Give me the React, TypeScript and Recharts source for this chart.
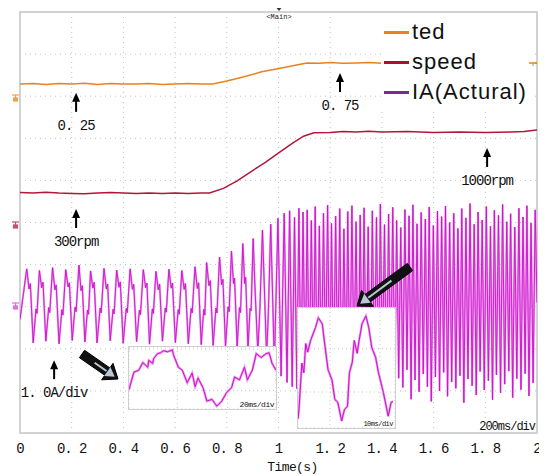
import React from "react";
import {
  LineChart,
  Line,
  XAxis,
  YAxis,
  CartesianGrid,
  ReferenceArea,
  ReferenceDot,
} from "recharts";

// time axis (s) and vertical divisions of the scope screen
const timeTicks = [0, 0.2, 0.4, 0.6, 0.8, 1, 1.2, 1.4, 1.6, 1.8, 2];
const divTicks = [0, 1, 2, 3, 4, 5, 6, 7, 8, 9, 10];

const seriesNames = ["ted", "speed", "IA(Actural)"];
const legendColors = ["#E8831C", "#A8102E", "#7E2A92"];

// ted trace (divisions)
const tedT = [0, 0.05, 0.1, 0.15, 0.2, 0.25, 0.3, 0.35, 0.4, 0.45, 0.5, 0.55, 0.6, 0.65, 0.7, 0.746, 0.8, 0.867, 0.935, 1.002, 1.07, 1.11, 1.16, 1.2, 1.25, 1.3, 1.35, 1.4, 1.5, 1.6, 1.7, 1.8, 1.9, 2.0];
const tedV = [8.29, 8.3, 8.28, 8.3, 8.29, 8.31, 8.28, 8.3, 8.29, 8.29, 8.3, 8.28, 8.29, 8.3, 8.29, 8.29, 8.36, 8.46, 8.58, 8.66, 8.74, 8.79, 8.78, 8.8, 8.78, 8.79, 8.8, 8.78, 8.79, 8.78, 8.79, 8.79, 8.78, 8.79];

// speed trace (divisions)
const speedT = [0, 0.05, 0.1, 0.15, 0.2, 0.25, 0.3, 0.35, 0.4, 0.45, 0.5, 0.55, 0.6, 0.65, 0.7, 0.733, 0.787, 0.84, 0.894, 0.949, 1.002, 1.056, 1.097, 1.137, 1.2, 1.25, 1.3, 1.35, 1.4, 1.5, 1.6, 1.7, 1.8, 1.9, 1.95, 2.0];
const speedV = [5.71, 5.7, 5.72, 5.7, 5.69, 5.68, 5.7, 5.71, 5.7, 5.69, 5.7, 5.69, 5.7, 5.69, 5.7, 5.7, 5.81, 5.99, 6.21, 6.43, 6.66, 6.89, 7.05, 7.13, 7.14, 7.16, 7.15, 7.17, 7.15, 7.16, 7.14, 7.15, 7.14, 7.15, 7.16, 7.2];

// phase current, low speed part and acceleration (divisions)
const iaSlowT = [
  0,
  0.026, 0.035, 0.04, 0.051, 0.062, 0.066,
  0.075, 0.084, 0.089, 0.1, 0.111, 0.115,
  0.126, 0.135, 0.14, 0.151, 0.162, 0.166,
  0.177, 0.186, 0.191, 0.202, 0.213, 0.217,
  0.228, 0.236, 0.241, 0.251, 0.261, 0.265,
  0.273, 0.282, 0.287, 0.298, 0.31, 0.314,
  0.325, 0.334, 0.339, 0.349, 0.36, 0.364,
  0.374, 0.383, 0.388, 0.399, 0.411, 0.415,
  0.426, 0.435, 0.44, 0.451, 0.462, 0.466,
  0.477, 0.486, 0.491, 0.501, 0.512, 0.516,
  0.526, 0.535, 0.54, 0.551, 0.562, 0.566,
  0.576, 0.585, 0.59, 0.601, 0.612, 0.616,
  0.626, 0.635, 0.64, 0.651, 0.662, 0.666,
  0.677, 0.686, 0.691, 0.701, 0.711, 0.715,
  0.722, 0.731, 0.736, 0.747, 0.758, 0.762,
  0.772, 0.78, 0.785, 0.795, 0.805, 0.809,
  0.818, 0.826, 0.83, 0.84, 0.849, 0.853,
  0.862, 0.869, 0.873, 0.882, 0.89, 0.894,
  0.902, 0.909, 0.92, 0.928,
  0.938, 0.945, 0.954, 0.961,
  0.97, 0.984,
  0.998, 1.01,
  1.022, 1.033,
  1.043, 1.053,
  1.062, 1.071,
  1.079, 1.087,
  1.095, 1.103,
];
const iaSlowV = [
  2.7,
  3.9, 3.42, 3.55, 2.14, 2.95, 2.84,
  3.86, 3.45, 3.58, 2.18, 2.98, 2.86,
  3.93, 3.4, 3.52, 2.12, 2.93, 2.8,
  3.88, 3.47, 3.57, 2.2, 2.99, 2.88,
  3.99, 3.38, 3.5, 2.16, 2.92, 2.82,
  3.85, 3.44, 3.58, 2.14, 2.97, 2.85,
  3.91, 3.42, 3.54, 2.19, 2.94, 2.83,
  3.87, 3.46, 3.59, 2.13, 2.96, 2.86,
  3.9, 3.41, 3.53, 2.17, 2.92, 2.81,
  3.88, 3.45, 3.56, 2.11, 2.95, 2.84,
  3.84, 3.4, 3.54, 2.18, 2.97, 2.87,
  3.89, 3.44, 3.56, 2.15, 2.93, 2.82,
  3.86, 3.41, 3.55, 2.12, 2.96, 2.85,
  3.95, 3.43, 3.57, 2.1, 2.94, 2.8,
  4.05, 3.5, 3.62, 2.08, 2.97, 2.85,
  4.18, 3.52, 3.65, 2.06, 3.0, 2.88,
  4.32, 3.55, 3.68, 2.04, 2.98, 2.86,
  4.5, 3.55, 3.7, 2.0, 2.96, 2.9,
  4.62, 3.45, 1.92, 2.95,
  4.82, 3.5, 1.8, 2.9,
  4.96, 1.62,
  5.1, 1.35,
  5.22, 1.2,
  5.28, 1.1,
  5.12, 1.05,
  5.34, 0.98,
  5.25, 1.15,
];

// phase current at 1000 rpm: peaks and troughs (divisions)
const iaPeakT = [1.111, 1.127, 1.142, 1.158, 1.174, 1.19, 1.205, 1.221, 1.237, 1.253, 1.268, 1.284, 1.3, 1.316, 1.331, 1.347, 1.363, 1.379, 1.394, 1.41, 1.426, 1.442, 1.457, 1.473, 1.489, 1.505, 1.52, 1.536, 1.552, 1.568, 1.583, 1.599, 1.615, 1.631, 1.646, 1.662, 1.678, 1.694, 1.709, 1.725, 1.741, 1.757, 1.772, 1.788, 1.804, 1.82, 1.835, 1.851, 1.867, 1.883, 1.898, 1.914, 1.93, 1.946, 1.961, 1.977, 1.993];
const iaPeakV = [5.3, 5.05, 5.38, 4.92, 5.22, 5.41, 4.98, 5.15, 5.33, 4.85, 5.26, 5.4, 5.02, 5.18, 5.35, 4.9, 5.28, 5.12, 5.44, 4.95, 5.2, 5.36, 5.05, 4.88, 5.31, 5.16, 5.42, 4.97, 5.24, 5.08, 5.37, 4.93, 5.27, 5.14, 5.39, 5.0, 5.22, 4.86, 5.33, 5.11, 5.45, 4.96, 5.25, 5.06, 5.38, 4.91, 5.29, 5.17, 5.43, 5.02, 5.21, 4.89, 5.34, 5.13, 5.4, 4.99, 5.3];
const iaTroughT = [1.119, 1.135, 1.15, 1.166, 1.182, 1.198, 1.213, 1.229, 1.245, 1.261, 1.276, 1.292, 1.308, 1.324, 1.339, 1.355, 1.371, 1.387, 1.402, 1.418, 1.434, 1.45, 1.465, 1.481, 1.497, 1.513, 1.528, 1.544, 1.56, 1.576, 1.591, 1.607, 1.623, 1.639, 1.654, 1.67, 1.686, 1.702, 1.717, 1.733, 1.749, 1.765, 1.78, 1.796, 1.812, 1.828, 1.843, 1.859, 1.875, 1.891, 1.906, 1.922, 1.938, 1.954, 1.969, 1.985, 2.0];
const iaTroughV = [1.05, 1.32, 0.88, 1.2, 1.45, 0.95, 1.12, 1.38, 0.82, 1.25, 1.02, 1.48, 0.9, 1.15, 1.35, 0.78, 1.22, 1.05, 1.42, 0.92, 1.18, 0.85, 1.3, 1.08, 1.5, 0.8, 1.26, 0.98, 1.4, 1.1, 0.75, 1.33, 1.0, 1.44, 0.87, 1.21, 1.06, 1.36, 0.72, 1.28, 1.12, 0.9, 1.46, 1.02, 1.24, 0.79, 1.38, 0.95, 1.16, 1.47, 0.84, 1.29, 1.03, 1.41, 0.88, 1.19, 3.1];

// zoomed captures (20ms/div and 10ms/div)
const zoom1X = [0, 5, 10, 14, 19, 20, 24, 25, 29, 32, 35, 39, 44, 45, 50, 54, 59, 64, 67, 70, 75, 79, 84, 89, 94, 99, 104, 107, 112, 117, 120, 125, 129, 134, 139, 142, 145, 149];
const zoom1V = [0.94, 1.78, 1.88, 2.25, 2.02, 2.35, 2.21, 2.44, 2.68, 2.72, 2.82, 2.77, 2.86, 2.63, 2.02, 1.88, 1.27, 1.74, 1.08, 1.5, 1.03, 0.38, 0.47, 0.14, 0.38, 0.8, 1.03, 1.55, 1.41, 2.02, 1.41, 1.88, 2.68, 2.49, 2.68, 2.72, 2.21, 1.88];
const zoom2X = [0, 0.5, 2, 3, 4, 5, 6.5, 9, 10.5, 12.5, 14, 15.5, 17.5, 19, 20.5, 22.5, 24, 25.5, 26.5, 28, 29, 30.5, 31.5, 33, 35, 36.5, 38, 40, 41.5, 44, 46.5, 48, 49];
const zoom2V = [0.37, 0.78, 2.7, 2.3, 3.52, 3.16, 3.65, 4.18, 4.59, 4.34, 3.36, 2.42, 2.01, 1.19, 1.07, 0.29, 0.78, 0.9, 2.3, 2.75, 3.65, 3.11, 3.65, 4.34, 4.67, 4.18, 3.36, 2.95, 2.3, 1.48, 0.49, 1.07, 1.11];

const notes = [
  { t: 0.217, v: 8.08, text: "0. 25" },
  { t: 1.238, v: 8.55, text: "0. 75" },
  { t: 1.807, v: 6.77, text: "1000rpm" },
  { t: 0.217, v: 5.32, text: "300rpm" },
  { t: 0.132, v: 1.73, text: "1. 0A/div" },
];

const pairs = (xs, ys) => xs.map((t, i) => ({ t, v: ys[i] }));
const tedData = pairs(tedT, tedV);
const speedData = pairs(speedT, speedV);
const iaData = [
  ...pairs(iaSlowT, iaSlowV),
  ...[...pairs(iaPeakT, iaPeakV), ...pairs(iaTroughT, iaTroughV)].sort((a, b) => a.t - b.t),
];
const zoom1Data = pairs(zoom1X, zoom1V);
const zoom2Data = pairs(zoom2X, zoom2V);

const MONO = "'Liberation Mono', 'DejaVu Sans Mono', monospace";
const PINK = "#EE96EE";
const MAGENTA = "#CC10CC";

const fmtTick = (v) => (Number.isInteger(v) ? String(v) : v.toFixed(1).replace(".", ". "));

const UpArrow = ({ cx, cy, text }) => (
  <g>
    <polygon points={`${cx},${cy} ${cx - 4},${cy + 9} ${cx + 4},${cy + 9}`} fill="#000" />
    <line x1={cx} y1={cy + 8} x2={cx} y2={cy + 19} stroke="#000" strokeWidth={2} />
    <text x={cx} y={cy + 33} textAnchor="middle" dominantBaseline="central" fontFamily={MONO} fontSize={14} letterSpacing={-1} fill="#111">
      {text}
    </text>
  </g>
);

// thick black pointer with a light streak, tail -> tip
const BigArrow = ({ x1, y1, x2, y2 }) => {
  const dx = x2 - x1, dy = y2 - y1;
  const len = Math.hypot(dx, dy);
  const ux = dx / len, uy = dy / len, nx = -uy, ny = ux;
  const hl = 13, sw = 4.5, hw = 10;
  const bx = x2 - ux * hl, by = y2 - uy * hl;
  const p = [
    [x1 + nx * sw, y1 + ny * sw],
    [bx + nx * sw, by + ny * sw],
    [bx + nx * hw, by + ny * hw],
    [x2, y2],
    [bx - nx * hw, by - ny * hw],
    [bx - nx * sw, by - ny * sw],
    [x1 - nx * sw, y1 - ny * sw],
  ];
  return (
    <g>
      <polygon points={p.map((q) => q.join(",")).join(" ")} fill="#111" stroke="#000" strokeWidth={1} />
      <line x1={x1 + dx * 0.35} y1={y1 + dy * 0.35} x2={bx - ux * 1} y2={by - uy * 1} stroke="#B8C6D8" strokeWidth={2} />
      <polygon points={`${bx + nx * 5.5},${by + ny * 5.5} ${x2 - ux * 4},${y2 - uy * 4} ${bx - nx * 5.5},${by - ny * 5.5}`} fill="#B8C6D8" />
    </g>
  );
};

const ChannelMark = ({ x, y, color }) => (
  <g stroke={color} fill="none" strokeWidth={1.2}>
    <line x1={x - 3.5} y1={y} x2={x + 3.5} y2={y} />
    <line x1={x} y1={y} x2={x} y2={y + 6} />
    <rect x={x - 2} y={y + 3} width={4} height={3} fill={color} />
  </g>
);

const Inset = ({ left, top, width, height, data, xMax, yMax, xGrid, yGrid, label, labelSize }) => (
  <div style={{ position: "absolute", left, top, width, height, background: "#fff", border: "1px solid #cfcfcf", boxSizing: "border-box" }}>
    <LineChart width={width - 2} height={height - 2} margin={{ top: 0, right: 0, bottom: 0, left: 0 }}>
      <CartesianGrid stroke="#c8c8c8" strokeDasharray="1 3" horizontal vertical />
      <XAxis type="number" dataKey="t" domain={[0, xMax]} ticks={xGrid} hide />
      <YAxis type="number" domain={[0, yMax]} ticks={yGrid} hide />
      <Line data={data} dataKey="v" stroke={PINK} strokeWidth={2.4} dot={false} isAnimationActive={false} />
      <Line data={data} dataKey="v" stroke={MAGENTA} strokeWidth={1} dot={false} isAnimationActive={false} />
    </LineChart>
    <span style={{ position: "absolute", right: 2, bottom: 0, fontFamily: MONO, fontSize: labelSize, letterSpacing: -0.5, color: "#111" }}>{label}</span>
  </div>
);

export default function App() {
  return (
    <div style={{ position: "relative", width: 547, height: 475, margin: "-8px 0 0 -8px", background: "#fff", overflow: "hidden" }}>
      <LineChart width={547} height={475} margin={{ top: 12, right: 10, bottom: 0, left: 20 }}>
        <CartesianGrid stroke="#c2c2c2" strokeDasharray="1 4" />
        <XAxis
          type="number"
          dataKey="t"
          domain={[0, 2]}
          ticks={timeTicks}
          interval={0}
          allowDataOverflow
          height={42}
          tickLine={false}
          axisLine={false}
          tickMargin={4}
          tickFormatter={fmtTick}
          tick={{ fill: "#111", fontFamily: MONO, fontSize: 14, letterSpacing: -1 }}
          label={{ value: "Time(s)", position: "insideBottom", offset: 4, dx: 14, style: { fill: "#111", fontFamily: MONO, fontSize: 13, letterSpacing: -0.6 } }}
        />
        <YAxis type="number" domain={[0, 10]} ticks={divTicks} hide allowDataOverflow />
        <ReferenceArea x1={0} x2={2} y1={0} y2={10} fill="none" stroke="#d2d2d2" strokeWidth={2} />
        <Line data={iaData} dataKey="v" stroke={PINK} strokeWidth={2} dot={false} isAnimationActive={false} />
        <Line data={iaData} dataKey="v" stroke={MAGENTA} strokeWidth={0.9} dot={false} isAnimationActive={false} />
        <Line data={speedData} dataKey="v" stroke="#B0183A" strokeWidth={1.5} dot={false} isAnimationActive={false} />
        <Line data={tedData} dataKey="v" stroke="#E8831C" strokeWidth={1.5} dot={false} isAnimationActive={false} />
        {notes.map((n) => (
          <ReferenceDot key={n.text} x={n.t} y={n.v} r={0} shape={(p) => <UpArrow cx={p.cx} cy={p.cy} text={n.text} />} />
        ))}
      </LineChart>

      <Inset left={128} top={346} width={149} height={64} data={zoom1Data} xMax={149} yMax={3} xGrid={[49, 100]} yGrid={[0.9, 2.9]} label="20ms/div" labelSize={8} />
      <Inset left={297} top={307} width={99} height={122} data={zoom2Data} xMax={50} yMax={5} xGrid={[16.5, 42.3]} yGrid={[1.5, 3.3]} label="10ms/div" labelSize={7} />

      <div style={{ position: "absolute", left: 381, top: 13, width: 154, height: 96, background: "#fff" }}>
        {seriesNames.map((name, i) => (
          <div key={name} style={{ position: "absolute", left: 3, top: 4 + i * 30, height: 30, display: "flex", alignItems: "center" }}>
            <div style={{ width: 25, height: 3, background: legendColors[i], marginRight: 3 }} />
            <span style={{ fontFamily: "'Liberation Sans', Arial, sans-serif", fontSize: 22, letterSpacing: 1, color: "#111" }}>{name}</span>
          </div>
        ))}
      </div>

      <svg width={547} height={475} style={{ position: "absolute", left: 0, top: 0, pointerEvents: "none" }}>
        <line x1={12} y1={7} x2={545} y2={7} stroke="#555" strokeWidth={1.6} />
        <polygon points="275,6 283,6 279,11" fill="#333" />
        <text x={279} y={19} textAnchor="middle" fontFamily={MONO} fontSize={7} fill="#222">{"<Main>"}</text>
        <ChannelMark x={15.5} y={95} color="#F0A050" />
        <ChannelMark x={15.5} y={222} color="#C8506A" />
        <ChannelMark x={15.5} y={303} color="#E070E0" />
        <line x1={529} y1={63} x2={537} y2={63} stroke="#E8831C" strokeWidth={1.5} />
        <line x1={533} y1={63} x2={533} y2={66} stroke="#E8831C" strokeWidth={1} />
        <BigArrow x1={82} y1={354} x2={118} y2={379} />
        <BigArrow x1={410} y1={267} x2={357} y2={306} />
        <text x={535} y={430} textAnchor="end" fontFamily={MONO} fontSize={12} letterSpacing={-1} fill="#111">200ms/div</text>
      </svg>
    </div>
  );
}
